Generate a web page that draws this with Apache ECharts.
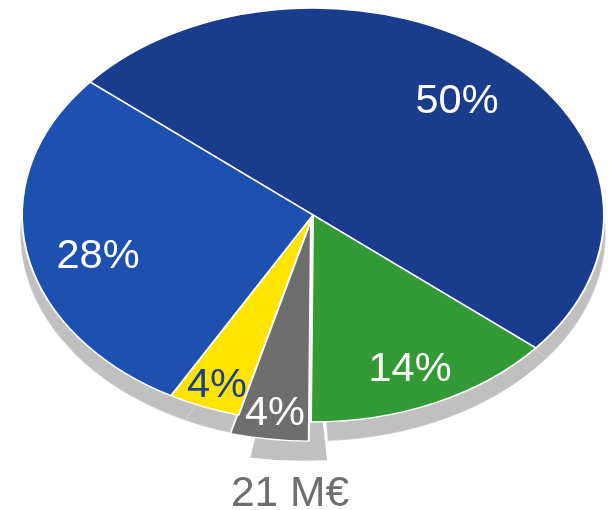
<!DOCTYPE html>
<html><head><meta charset="utf-8"><style>html,body{margin:0;background:#fff}#c{width:610px;height:510px}</style>
<script src="https://cdn.jsdelivr.net/npm/echarts@6/dist/echarts.min.js"></script></head>
<body><div id="c"></div><script>
const categories = ['A','B','C','D','E'];
const shareValues = [50, 14, 4, 4, 28];
const sliceLabels = ['50%','14%','4%','4%','28%'];
const sliceColors = ['#193c8c','#339a35','#6e6e6e','#ffe400','#1e50b0'];
const labelColors = ['#fff','#fff','#fff','#1e3f8f','#fff'];
const labelPos = [[457,102],[410,370],[275,414],[217,386],[98,257]];
const startDeg = 310, CX=313, CY=215, RX=291, RY=207;
const total = shareValues.reduce((a,b)=>a+b,0);
const radiusK = [1,1,1.085,1,1];
const shift = [[0,0],[0,0],[-2,1.5],[0,0],[0,0]];
const shadowCenter = [[313,233],[313,233],[303,236],[313,233],[313,233]];
const shadowRot = [-3.3,-3.3,-5,-3.3,-3.3];
function sector(cx,cy,k,a0,a1,style,z2){
  const s=a=>(a-90)*Math.PI/180;
  return {type:'group',x:cx,y:cy,scaleY:RY/RX,children:[{type:'sector',z2:z2||0,
    shape:{cx:0,cy:0,r:RX*k,r0:0,startAngle:s(a0),endAngle:s(a1),clockwise:true},style}]};
}
function span(i,val){let acc=0;for(let j=0;j<i;j++)acc+=shareValues[j];
  const a0=startDeg+acc/total*360;return [a0,a0+val/total*360];}
const ch=echarts.init(document.getElementById('c'));
ch.setOption({animation:false,
 series:[{type:'custom',coordinateSystem:'none',silent:true,
  data:shareValues.map((v,i)=>[v,i]),
  renderItem(params,api){
    const i=api.value(1),[a0,a1]=span(i,api.value(0)),r=shadowRot[i],isX=radiusK[i]>1;
    return sector(shadowCenter[i][0],shadowCenter[i][1],isX?1.09:1.005,a0+r,a1+r,
      isX?{fill:'#c0c0c0',stroke:'#fff',lineWidth:2.5,lineJoin:'bevel'}
         :{fill:'#c0c0c0',stroke:'#d4d4d4',lineWidth:0.6,lineJoin:'bevel'},isX?10:0);
  },z:1},
  {type:'custom',coordinateSystem:'none',silent:true,
  data:shareValues.map((v,i)=>[v,i]),
  renderItem(params,api){
    const i=api.value(1),[a0,a1]=span(i,api.value(0));
    return {type:'group',children:[
     sector(CX+shift[i][0],CY+shift[i][1],radiusK[i],a0,a1,{fill:sliceColors[i],stroke:'#fff',lineWidth:2,lineJoin:'bevel'}),
     {type:'text',x:labelPos[i][0],y:labelPos[i][1],z2:20,style:{text:sliceLabels[i],fill:labelColors[i],
       font:'41.5px "Liberation Sans",Arial,sans-serif',textAlign:'center',textVerticalAlign:'middle'}}
    ]};
  },z:2}],
 graphic:[{type:'text',x:290,y:494,z:5,style:{text:'21 M€',fill:'#6e6e6e',font:'42.5px "Liberation Sans",Arial,sans-serif',textAlign:'center',textVerticalAlign:'middle'}}]
});
</script></body></html>
